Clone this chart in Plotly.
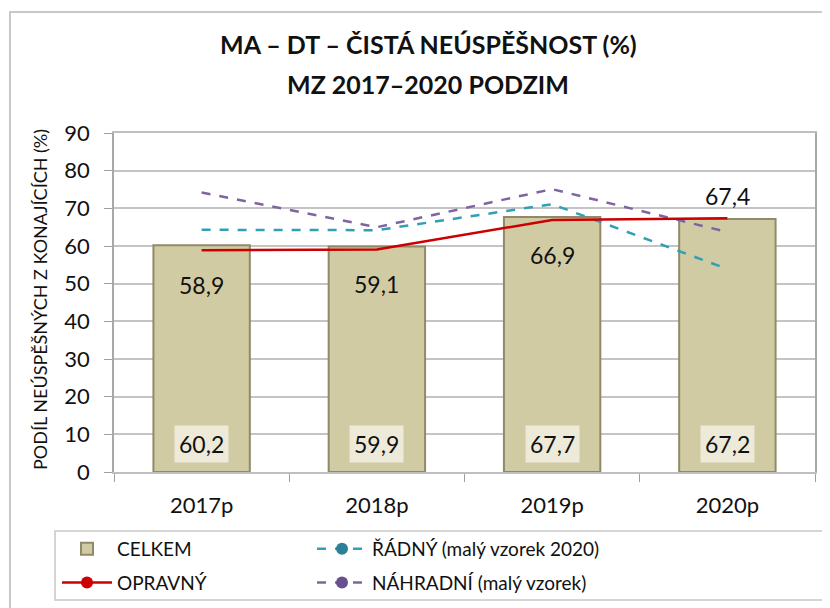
import plotly.graph_objects as go

years = ["2017p", "2018p", "2019p", "2020p"]
celkem = [60.2, 59.9, 67.7, 67.2]
opravny = [58.9, 59.1, 66.9, 67.4]
radny = [64.3, 64.2, 71.1, 53.9]
nahradni = [74.2, 65.0, 75.1, 63.7]

def fmt(v):
    return f"{v:.1f}".replace(".", ",")

FONT = "Lato"
W, H = 830, 608
OFF = 8  # page body margin
L, T = 114 - OFF, 133 - OFF
R = W - (815 - OFF)
B = H - (472 - OFF)
pw = W - L - R
ph = H - T - B

def px(xp):  # page x -> paper x
    return (xp - OFF - L) / pw

def py(yp):  # page y -> paper y
    return (T + ph - (yp - OFF)) / ph

fig = go.Figure()

fig.add_trace(go.Bar(
    x=years, y=celkem, name="CELKEM", width=0.55,
    marker=dict(color="#d1cba3", line=dict(color="#8f8a6a", width=2)),
    legend="legend", legendgroup="c",
))
fig.add_trace(go.Scatter(
    x=years, y=radny, mode="lines", showlegend=False, legend="legend2", legendgroup="r",
    line=dict(color="#31a0b5", width=2.5, dash="dash"),
))
fig.add_trace(go.Scatter(
    x=years, y=nahradni, mode="lines", showlegend=False, legend="legend2", legendgroup="n",
    line=dict(color="#8064a2", width=2.5, dash="dash"),
))
fig.add_trace(go.Scatter(
    x=years, y=opravny, mode="lines", showlegend=False, legend="legend", legendgroup="o",
    line=dict(color="#cc0000", width=2.5),
))

fig.add_trace(go.Scatter(x=[None], y=[None], mode="lines+markers", name="OPRAVNÝ",
                         legend="legend", legendgroup="o", line=dict(color="#cc0000", width=2.5),
                         marker=dict(color="#cc0000", size=12)))
fig.add_trace(go.Scatter(x=[None], y=[None], mode="lines+markers", name="ŘÁDNÝ (malý vzorek 2020)",
                         legend="legend2", legendgroup="r", line=dict(color="#31a0b5", width=2.5, dash="dash"),
                         marker=dict(color="#2a8096", size=12)))
fig.add_trace(go.Scatter(x=[None], y=[None], mode="lines+markers", name="NÁHRADNÍ (malý vzorek)",
                         legend="legend2", legendgroup="n", line=dict(color="#8064a2", width=2.5, dash="dash"),
                         marker=dict(color="#6a4f8e", size=12)))

annotations = []
for yr, v in zip(years, celkem):
    annotations.append(dict(
        x=yr, y=0, xref="x", yref="y", text=fmt(v), showarrow=False,
        yanchor="bottom", yshift=9, bgcolor="#eeead9", borderpad=4,
        font=dict(family=FONT, size=23, color="#111111"),
    ))
for i, (yr, v) in enumerate(zip(years, opravny)):
    shift = 22 if i == len(years) - 1 else -35
    annotations.append(dict(
        x=yr, y=v, xref="x", yref="y", text=fmt(v), showarrow=False,
        yanchor="middle", yshift=shift,
        font=dict(family=FONT, size=23, color="#111111"),
    ))
annotations.append(dict(
    x=px(40), y=py(300), xref="paper", yref="paper",
    text="PODÍL NEÚSPĚŠNÝCH Z KONAJÍCÍCH (%)", textangle=-90, showarrow=False,
    xanchor="center", yanchor="middle",
    font=dict(family=FONT, size=18, color="#111111"),
))
annotations.append(dict(
    x=px(428), y=py(44), xref="paper", yref="paper",
    text="<b>MA – DT – ČISTÁ NEÚSPĚŠNOST (%)</b>", showarrow=False,
    xanchor="center", yanchor="middle",
    font=dict(family=FONT, size=25, color="#111111"),
))
annotations.append(dict(
    x=px(428), y=py(84), xref="paper", yref="paper",
    text="<b>MZ 2017–2020 PODZIM</b>", showarrow=False,
    xanchor="center", yanchor="middle",
    font=dict(family=FONT, size=25, color="#111111"),
))

shapes = [
    dict(type="rect", xref="paper", yref="paper",
         x0=px(10), x1=px(860), y0=py(650), y1=py(12),
         line=dict(color="#c8c8c8", width=2), fillcolor="rgba(0,0,0,0)", layer="below"),
    dict(type="rect", xref="paper", yref="paper",
         x0=px(55), x1=px(860), y0=py(600), y1=py(531),
         line=dict(color="#c8c8c8", width=1.5), fillcolor="rgba(0,0,0,0)"),
]

legend_common = dict(
    orientation="v", xanchor="left", yanchor="top",
    font=dict(family=FONT, size=19, color="#111111"),
    itemwidth=50, tracegroupgap=6, bgcolor="rgba(0,0,0,0)",
    traceorder="grouped",
)

fig.update_layout(
    width=W, height=H,
    margin=dict(l=L, r=R, t=T, b=B, autoexpand=False),
    paper_bgcolor="white", plot_bgcolor="white",
    font=dict(family=FONT, color="#111111"),
    xaxis=dict(
        showgrid=False, showline=True, mirror=True, linecolor="#bfbfbf", linewidth=1.5,
        ticks="outside", tickson="boundaries", ticklen=8, tickcolor="#a0a0a0",
        tickfont=dict(family=FONT, size=22, color="#111111"),
        ticklabelstandoff=13,
    ),
    yaxis=dict(
        range=[0, 90], dtick=10, showgrid=True, gridcolor="#c4c4c4", gridwidth=1.5,
        showline=True, mirror=True, linecolor="#a8a8a8", linewidth=1.5,
        ticks="outside", ticklen=8, tickcolor="#a0a0a0",
        tickfont=dict(family=FONT, size=22, color="#111111"),
        ticklabelstandoff=10,
        zeroline=False,
    ),
    showlegend=True,
    legend=dict(x=px(57), y=py(530), **legend_common),
    legend2=dict(x=px(312), y=py(530), **legend_common),
    annotations=annotations,
    shapes=shapes,
)

fig.write_html("out.html")
